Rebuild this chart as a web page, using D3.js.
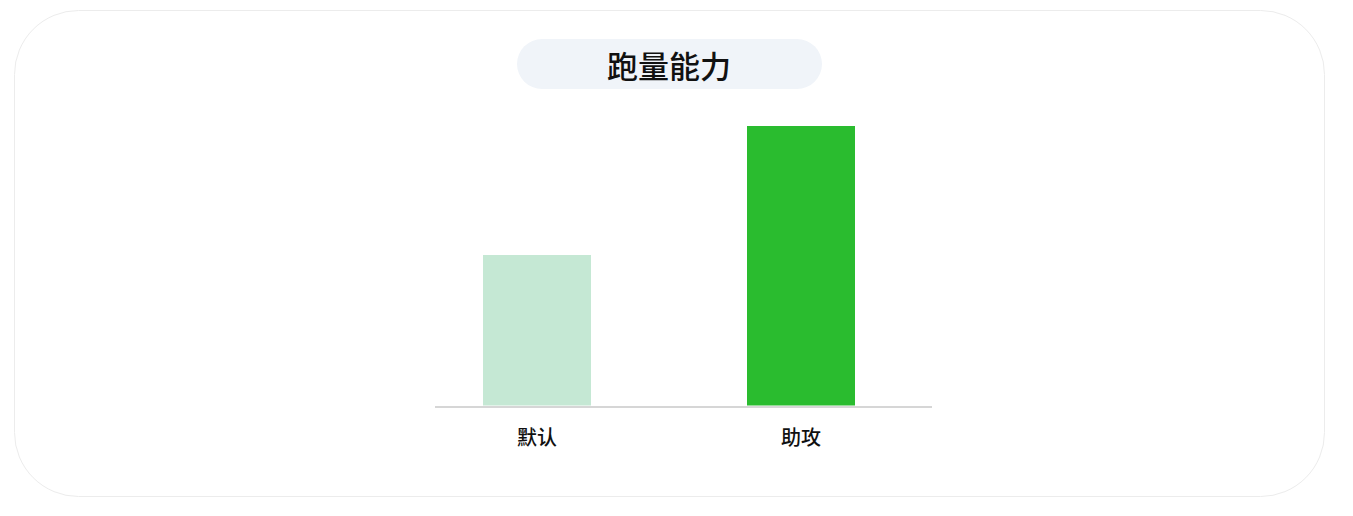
<!DOCTYPE html>
<html>
<head>
<meta charset="utf-8">
<script src="https://cdn.jsdelivr.net/npm/d3@7"></script>
<style>
html,body{margin:0;padding:0;background:#fff;}
svg{display:block;font-family:"Noto Sans CJK SC","Noto Sans",sans-serif;}
</style>
</head>
<body>
<svg id="chart" width="1353" height="516"></svg>
<script>
const title = "跑量能力";
const categories = ["默认", "助攻"];
const values = [7, 13];
const yMax = 14;
const barColors = ["#c5e8d4", "#2abc2f"];

const svg = d3.select("#chart");

// card
svg.append("rect")
  .attr("x", 14.5).attr("y", 10.5)
  .attr("width", 1310).attr("height", 486)
  .attr("rx", 64).attr("ry", 64)
  .attr("fill", "#fff")
  .attr("stroke", "#ececec").attr("stroke-width", 1);

// title pill
svg.append("rect")
  .attr("x", 517).attr("y", 39)
  .attr("width", 305).attr("height", 50)
  .attr("rx", 25).attr("ry", 25)
  .attr("fill", "#f0f4f9");
svg.append("text")
  .attr("x", 669).attr("y", 64.5)
  .attr("text-anchor", "middle")
  .attr("dominant-baseline", "central")
  .attr("font-size", 31)
  .attr("font-weight", 500)
  .attr("fill", "#111")
  .text(title);

const x = d3.scaleBand()
  .domain(categories)
  .range([483, 855])
  .paddingInner(0.5909)
  .paddingOuter(0);

const y = d3.scaleLinear()
  .domain([0, yMax])
  .range([405.5, 104.5]);

svg.append("g").selectAll("rect")
  .data(categories)
  .join("rect")
  .attr("x", d => x(d))
  .attr("width", x.bandwidth())
  .attr("y", (d, i) => y(values[i]))
  .attr("height", (d, i) => y(0) - y(values[i]))
  .attr("fill", (d, i) => barColors[i]);

// axis
const axis = d3.axisBottom(x).tickSize(0).tickPadding(24);
const ag = svg.append("g")
  .attr("transform", "translate(0,407)")
  .call(axis);
ag.select(".domain").remove();
ag.append("line")
  .attr("x1", 435).attr("x2", 932)
  .attr("y1", 0).attr("y2", 0)
  .attr("stroke", "#d6d6d6").attr("stroke-width", 2);
ag.selectAll(".tick text")
  .attr("font-size", 20)
  .attr("font-weight", 500)
  .attr("fill", "#111")
  .attr("font-family", "\"Noto Sans CJK SC\",sans-serif");
</script>
</body>
</html>
